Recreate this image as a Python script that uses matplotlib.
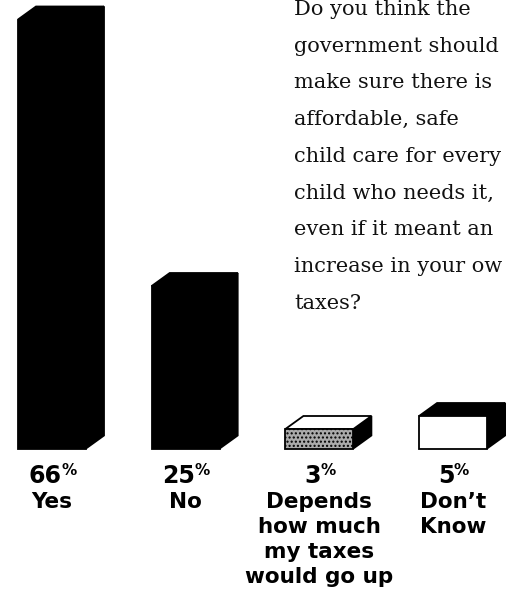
import matplotlib
matplotlib.use('Agg')
import matplotlib.pyplot as plt
from matplotlib.patches import Polygon
from matplotlib.textpath import TextPath
from matplotlib.font_manager import FontProperties

# data
categories = ['Yes', 'No', 'Depends\nhow much\nmy taxes\nwould go up', 'Don\u2019t\nKnow']
values = [66, 25, 3, 5]
front_colors = ['black', 'black', '#ababab', 'white']
top_colors = ['black', 'black', 'white', 'black']
hatches = [None, None, '....', None]
# text as it is visible in the reference (last word cut by the page edge)
question = ['Do you think the', 'government should', 'make sure there is',
            'affordable, safe', 'child care for every', 'child who needs it,',
            'even if it meant an', 'increase in your ow', 'taxes?']

W, H, DPI = 508, 591, 100
px_per_pct = 6.5
base_px = 448.5
x_first, x_step = 52, 133.7

fig = plt.figure(figsize=(W / DPI, H / DPI), dpi=DPI)
ax = fig.add_axes([0, 0, 1, 1])
ax.set_xlim(-x_first / x_step, (W - x_first) / x_step)
ax.set_ylim(-(H - base_px) / px_per_pct, base_px / px_per_pct)
ax.axis('off')

bar_w = 68 / x_step
dx = 18 / x_step
dy = 13 / px_per_pct


def draw_box(i, h, front, top, hatch):
    l, r = i - bar_w / 2, i + bar_w / 2
    kw = dict(edgecolor='black', linewidth=1.3, joinstyle='miter')
    ax.add_patch(Polygon([(r, 0), (r + dx, dy), (r + dx, h + dy), (r, h)],
                         facecolor='black', **kw))
    ax.add_patch(Polygon([(l, h), (r, h), (r + dx, h + dy), (l + dx, h + dy)],
                         facecolor=top, **kw))
    ax.add_patch(Polygon([(l, 0), (r, 0), (r, h), (l, h)],
                         facecolor=front, hatch=hatch, **kw))


label_font = 'DejaVu Sans'
num_size, pct_size, cat_size = 17, 11, 15.5
fp_num = FontProperties(family=label_font, weight='bold', size=num_size)
fp_pct = FontProperties(family=label_font, weight='bold', size=pct_size)

pt = 72 / DPI  # points per pixel
for i, (cat, v) in enumerate(zip(categories, values)):
    draw_box(i, v, front_colors[i], top_colors[i], hatches[i])

    # percentage with small raised % sign
    s = str(v)
    w_num = TextPath((0, 0), s, prop=fp_num).get_extents().width
    w_pct = TextPath((0, 0), '%', prop=fp_pct).get_extents().width
    total = w_num + w_pct + 2
    top_off = -(464 - base_px) * pt
    ax.annotate(s, xy=(i, 0), xytext=(-total / 2, top_off), textcoords='offset points',
                ha='left', va='top', fontproperties=fp_num, color='black')
    ax.annotate('%', xy=(i, 0), xytext=(-total / 2 + w_num + 2, top_off + 1),
                textcoords='offset points', ha='left', va='top',
                fontproperties=fp_pct, color='black')

    for k, line in enumerate(cat.split('\n')):
        yc = 502 + 25 * k
        ax.annotate(line, xy=(i, 0), xytext=(0, -(yc - base_px) * pt),
                    textcoords='offset points', ha='center', va='center',
                    family=label_font, weight='bold', fontsize=cat_size, color='black')

# question text
for k, line in enumerate(question):
    fig.text(294 / W, 1 - (15 + 36.7 * k) / H, line, ha='left', va='baseline',
             family='DejaVu Serif', fontsize=15, color='#111111')

fig.savefig('out.png', dpi=DPI)
